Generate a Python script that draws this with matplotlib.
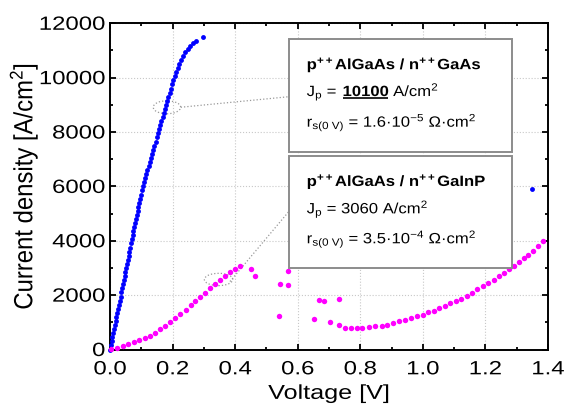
"""
Current density vs voltage for two tunnel junctions.
"""

import matplotlib
matplotlib.use("Agg")

import matplotlib.pyplot as plt
from matplotlib.patches import Ellipse, Rectangle
from matplotlib.patheffects import AbstractPathEffect
from matplotlib.transforms import Affine2D

plt.rcParams["font.family"] = ["Liberation Sans", "DejaVu Sans"]
plt.rcParams["mathtext.fontset"] = "custom"
plt.rcParams["mathtext.rm"] = "Liberation Sans"
plt.rcParams["mathtext.it"] = "Liberation Sans:italic"
plt.rcParams["mathtext.bf"] = "Liberation Sans:bold"

# p++AlGaAs / n++GaAs  (blue)
gaas_v = [
    0.0000, 0.0026, 0.0052, 0.0078, 0.0103, 0.0129, 0.0155, 0.0181, 0.0207,
    0.0233, 0.0259, 0.0284, 0.0310, 0.0336, 0.0362, 0.0388, 0.0414, 0.0440,
    0.0466, 0.0491, 0.0517, 0.0543, 0.0569, 0.0595, 0.0621, 0.0647, 0.0672,
    0.0698, 0.0724, 0.0750, 0.0776, 0.0802, 0.0828, 0.0853, 0.0879, 0.0905,
    0.0931, 0.0957, 0.0983, 0.1010, 0.1048, 0.1085, 0.1122, 0.1160, 0.1197,
    0.1234, 0.1271, 0.1309, 0.1347, 0.1384, 0.1421, 0.1458, 0.1495, 0.1532,
    0.1570, 0.1607, 0.1644, 0.1681, 0.1718, 0.1755, 0.1792, 0.1829, 0.1866,
    0.1904, 0.1943, 0.1982, 0.2022, 0.2065, 0.2110, 0.2160, 0.2212, 0.2270,
    0.2335, 0.2408, 0.2480, 0.2560, 0.2640, 0.2740, 0.2980, 1.3480,
]
gaas_j = [
    0, 150, 300, 450, 600, 750, 900, 1050, 1200,
    1350, 1500, 1650, 1800, 1950, 2100, 2250, 2400, 2550,
    2700, 2850, 3000, 3150, 3300, 3450, 3600, 3750, 3900,
    4050, 4200, 4350, 4500, 4650, 4800, 4950, 5100, 5250,
    5400, 5550, 5700, 5850, 6000, 6150, 6300, 6450, 6600,
    6750, 6900, 7050, 7200, 7350, 7500, 7650, 7800, 7950,
    8100, 8250, 8400, 8550, 8700, 8850, 9000, 9150, 9300,
    9450, 9600, 9750, 9900, 10050, 10200, 10350, 10500, 10650,
    10800, 10950, 11070, 11180, 11270, 11360, 11500, 5900,
]

# p++AlGaAs / n++GaInP  (magenta)
gainp_v = [
    0.003, 0.022, 0.041, 0.059, 0.077, 0.094, 0.111, 0.128, 0.145, 0.161,
    0.177, 0.193, 0.209, 0.225, 0.242, 0.258, 0.273, 0.289, 0.304, 0.320,
    0.335, 0.350, 0.366, 0.382, 0.400, 0.417, 0.450, 0.463, 0.543, 0.570,
    0.570, 0.541, 0.653, 0.668, 0.685, 0.703, 0.732, 0.731, 0.751, 0.769,
    0.788, 0.807, 0.827, 0.848, 0.868, 0.886, 0.905, 0.923, 0.942, 0.962,
    0.980, 0.999, 1.017, 1.035, 1.052, 1.070, 1.087, 1.105, 1.122, 1.140,
    1.157, 1.174, 1.192, 1.209, 1.227, 1.243, 1.259, 1.275, 1.291, 1.306,
    1.322, 1.337, 1.353, 1.368, 1.383,
]
gainp_j = [
    20, 60, 130, 195, 265, 340, 420, 505, 610, 740,
    880, 1020, 1165, 1300, 1460, 1620, 1770, 1925, 2095, 2245,
    2395, 2550, 2705, 2845, 2970, 3055, 2960, 2705, 2410, 2875,
    2390, 1220, 1135, 1805, 1770, 1000, 1865, 900, 775, 775,
    775, 790, 821, 847, 883, 920, 968, 1031, 1078, 1141,
    1226, 1277, 1362, 1435, 1520, 1608, 1693, 1778, 1866, 1976,
    2087, 2208, 2330, 2440, 2565, 2687, 2808, 2944, 3080, 3220,
    3360, 3480, 3615, 3790, 3990,
]

x_ticks = [0.0, 0.2, 0.4, 0.6, 0.8, 1.0, 1.2, 1.4]
y_ticks = [0, 2000, 4000, 6000, 8000, 10000, 12000]


class Stretch(AbstractPathEffect):
    # the reference text is wider than plain Arial: widen glyphs in place
    def __init__(self, sx=1.0, sy=1.0, align="left"):
        super().__init__()
        self.sx = sx
        self.sy = sy
        self.align = align

    def draw_path(self, renderer, gc, tpath, affine, rgbFace=None):
        ext = tpath.get_extents()
        if self.align == "center":
            x0 = (ext.x0 + ext.x1) / 2
        elif self.align == "right":
            x0 = ext.x1
        else:
            x0 = 0
        pre = Affine2D().translate(-x0, 0).scale(self.sx, self.sy).translate(x0, 0)
        renderer.draw_path(gc, tpath, pre + affine, rgbFace)


SX_TICK = 1.25
SX_BOX = 1.12

fig = plt.figure(figsize=(5.65, 4.05), dpi=100)
ax = fig.add_axes([0.1947, 0.1370, 0.7752, 0.8055])

ax.plot(gaas_v, gaas_j, "o", color="#0000ff", markersize=3.5,
        markeredgewidth=0, zorder=3, clip_on=False)
ax.plot(gainp_v, gainp_j, "o", color="#ff00ff", markersize=3.9,
        markeredgewidth=0, zorder=3, clip_on=False)

ax.set_xlim(0, 1.4)
ax.set_ylim(0, 12000)
ax.set_xticks(x_ticks)
ax.set_xticklabels([f"{t:.1f}" for t in x_ticks])
ax.set_yticks(y_ticks)
ax.set_yticklabels([str(t) for t in y_ticks])
ax.set_xticks([0.1, 0.3, 0.5, 0.7, 0.9, 1.1, 1.3], minor=True)
ax.set_yticks([1000, 3000, 5000, 7000, 9000, 11000], minor=True)

ax.tick_params(which="both", direction="in", top=True, right=True,
               width=1.3, labelsize=13.8)
ax.tick_params(axis="x", pad=8.5)
ax.tick_params(axis="y", pad=3.5)
ax.tick_params(which="major", length=4.5)
ax.tick_params(which="minor", length=2.5)
for spine in ax.spines.values():
    spine.set_linewidth(1.4)

for lbl in ax.get_xticklabels():
    lbl.set_path_effects([Stretch(sx=SX_TICK, align="center")])
for lbl in ax.get_yticklabels():
    lbl.set_path_effects([Stretch(sx=SX_TICK, align="right")])

ax.grid(True, which="major", linestyle=":", color="#c8c8c8", linewidth=0.8)
ax.set_axisbelow(True)

xlab = ax.set_xlabel("Voltage [V]", fontsize=14.5, labelpad=4)
xlab.set_path_effects([Stretch(sx=SX_TICK, align="center")])
ylab = ax.set_ylabel("Current density [A/cm$^2$]", fontsize=17.2, labelpad=9)
ylab.set_path_effects([Stretch(sy=1.1)])

# dotted ellipses around the peak points, and leader lines to the boxes
ax.add_patch(Ellipse((0.182, 8911), 0.0876, 478, fill=False,
                     edgecolor="#999999", linestyle=":", linewidth=0.9))
ax.add_patch(Ellipse((0.347, 2576), 0.0908, 453, fill=False,
                     edgecolor="#999999", linestyle=":", linewidth=0.9))
ax.plot([0.226, 0.573], [8911, 9301], ":", color="#999999", linewidth=0.9)
ax.plot([0.3835, 0.573], [2502, 5096], ":", color="#999999", linewidth=0.9)

# text boxes
for y0, y1 in [(0.606, 0.951), (0.249, 0.593)]:
    ax.add_patch(Rectangle((0.409, y0), 0.5095, y1 - y0, transform=ax.transAxes,
                           facecolor="white", edgecolor="#8c8c8c",
                           linewidth=1.4, zorder=5))

text_x = 0.449
fs = 10.7
box_fx = [Stretch(sx=SX_BOX)]

box_lines = [
    (0.859, r"p$^{\mathbf{++}}$AlGaAs / n$^{\mathbf{++}}$GaAs", "bold"),
    (0.683, r"r$_{\mathrm{s(0\ V)}}$ = 1.6·10$^{\mathrm{-5}}$ Ω·cm$^{2}$", "normal"),
    (0.501, r"p$^{\mathbf{++}}$AlGaAs / n$^{\mathbf{++}}$GaInP", "bold"),
    (0.4175, r"J$_\mathrm{p}$ = 3060 A/cm$^{2}$", "normal"),
    (0.3256, r"r$_{\mathrm{s(0\ V)}}$ = 3.5·10$^{\mathrm{-4}}$ Ω·cm$^{2}$", "normal"),
]
for y, s, weight in box_lines:
    ax.text(text_x, y, s, transform=ax.transAxes, fontsize=fs,
            fontweight=weight, va="baseline", zorder=6, path_effects=box_fx)

# J_p line of the first box, with bold underlined value
renderer = fig.canvas.get_renderer()
inv = ax.transAxes.inverted()
space_px = 0.28 * fs * 100 / 72 * SX_BOX

part1 = ax.text(text_x, 0.777, r"J$_\mathrm{p}$ =", transform=ax.transAxes,
                fontsize=fs, va="baseline", zorder=6, path_effects=box_fx)
ext1 = part1.get_window_extent(renderer)
px2 = ext1.x0 + ext1.width * SX_BOX + space_px
part2 = ax.text(inv.transform((px2, 0))[0], 0.777, "10100",
                transform=ax.transAxes, fontsize=fs, fontweight="bold",
                va="baseline", zorder=6, path_effects=box_fx)
ext2 = part2.get_window_extent(renderer)
px3 = px2 + ext2.width * SX_BOX
ax.text(inv.transform((px3 + space_px, 0))[0], 0.777, r"A/cm$^{2}$",
        transform=ax.transAxes, fontsize=fs, va="baseline", zorder=6,
        path_effects=box_fx)
ax.plot([inv.transform((px2, 0))[0], inv.transform((px3, 0))[0]],
        [0.7695, 0.7695], color="black", linewidth=1.2,
        transform=ax.transAxes, zorder=6, solid_capstyle="butt")

fig.savefig("out.png", dpi=100)
